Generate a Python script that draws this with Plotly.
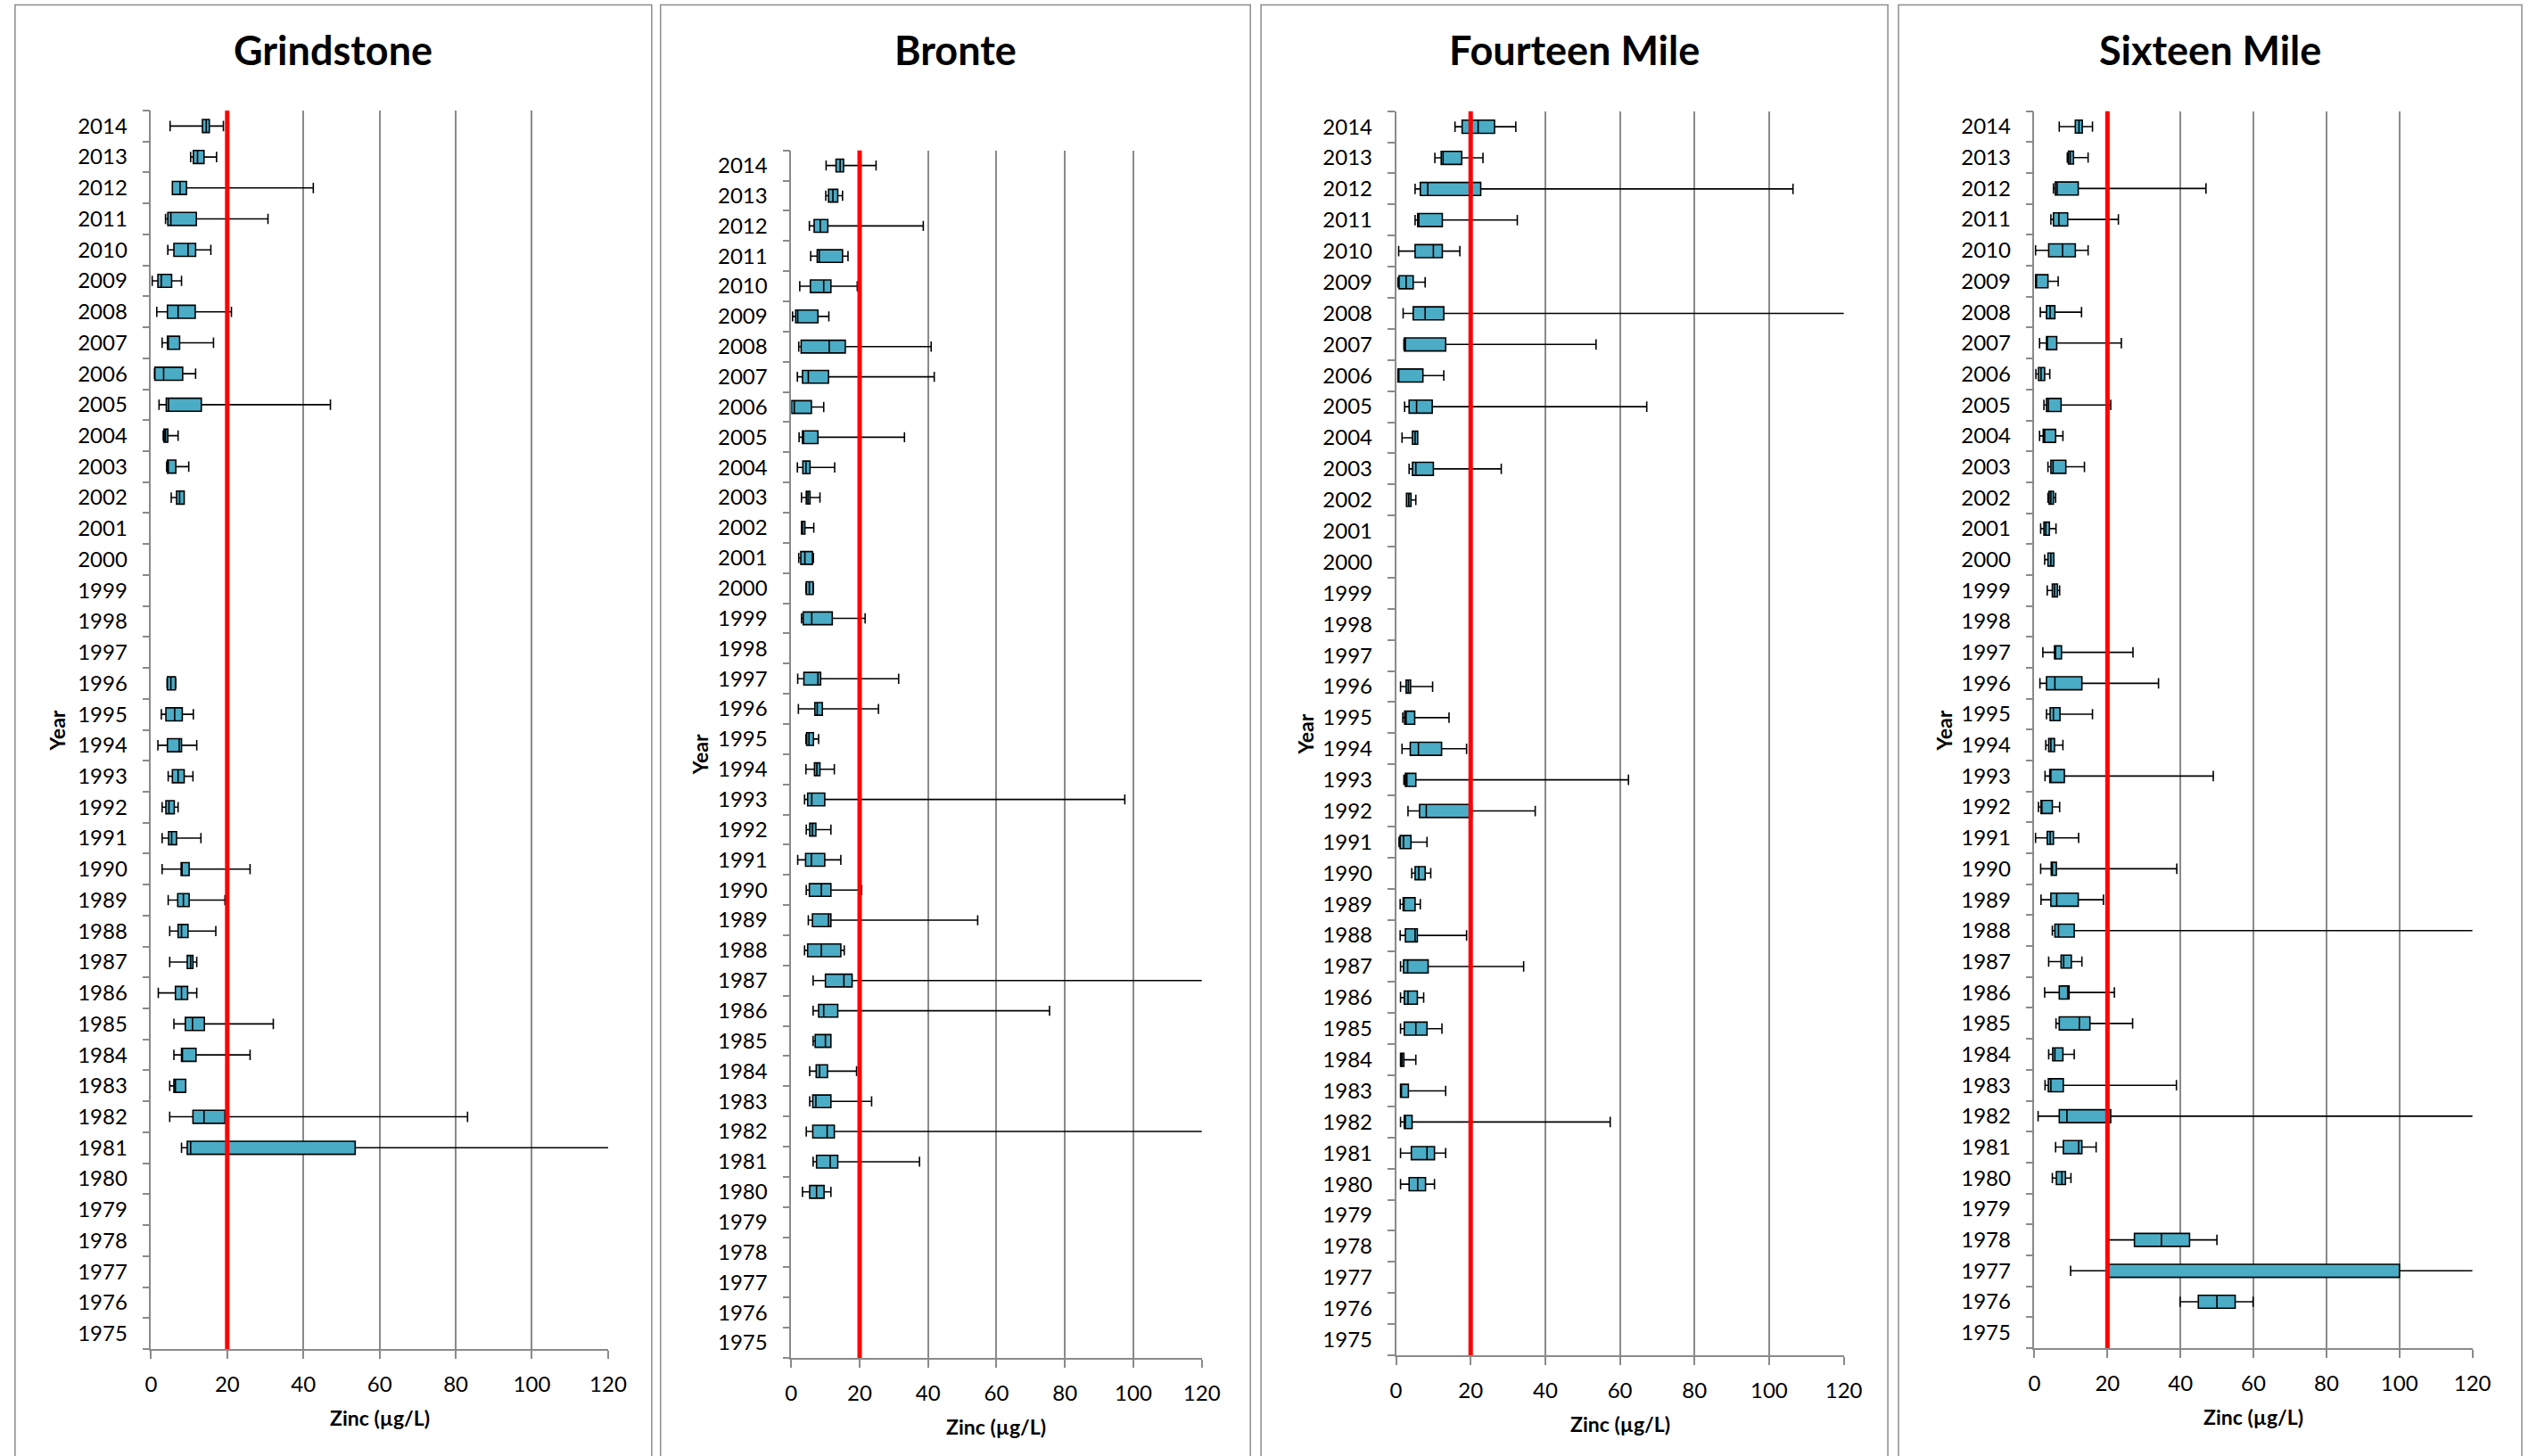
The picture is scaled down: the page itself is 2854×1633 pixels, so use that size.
import plotly.graph_objects as go

# ---------------- data ----------------
YEARS = [str(y) for y in range(1975, 2015)]
X_TICKS = [0, 20, 40, 60, 80, 100, 120]
GUIDELINE = 20  # µg/L
SITES = ["Grindstone", "Bronte", "Fourteen Mile", "Sixteen Mile"]
# values above 120 run off the chart

grindstone_years = [2014, 2013, 2012, 2011, 2010, 2009, 2008, 2007, 2006, 2005, 2004, 2003, 2002,
                    1996, 1995, 1994, 1993, 1992, 1991, 1990, 1989, 1988, 1987, 1986, 1985, 1984,
                    1983, 1982, 1981]
grindstone_low = [5.0, 10.4, 5.6, 3.8, 4.4, 0.3, 1.5, 2.9, 0.9, 2.1, 3.2, 4.1, 5.3,
                  4.2, 2.7, 1.8, 4.5, 2.9, 2.9, 2.9, 4.5, 4.9, 4.9, 1.9, 6.0, 6.0, 4.9, 4.9, 8.0]
grindstone_q1 = [13.5, 11.1, 5.6, 4.4, 6.0, 1.8, 4.3, 4.3, 1.0, 4.0, 3.4, 4.3, 6.7,
                 4.3, 3.9, 4.3, 5.6, 3.9, 4.6, 7.9, 7.0, 7.1, 9.5, 6.4, 9.0, 8.0, 6.0, 11.0, 9.5]
grindstone_med = [14.5, 12.2, 7.6, 5.2, 9.7, 2.7, 7.1, 4.4, 3.3, 4.6, 3.8, 4.4, 7.5,
                  5.2, 6.2, 7.4, 7.1, 4.7, 5.4, 7.9, 8.5, 8.0, 10.4, 8.0, 10.9, 8.2, 6.4, 13.9, 10.4]
grindstone_q3 = [15.3, 13.9, 9.3, 11.9, 11.7, 5.4, 11.6, 7.5, 8.3, 13.2, 4.4, 6.5, 8.7,
                 6.4, 8.2, 8.0, 8.7, 6.1, 6.7, 10.0, 10.0, 9.7, 11.0, 9.6, 14.0, 11.8, 9.1, 19.4, 53.6]
grindstone_high = [19.0, 17.2, 42.6, 30.7, 15.7, 8.0, 21.1, 16.4, 11.7, 47.1, 7.1, 9.9, 8.7,
                   6.5, 11.1, 12.0, 11.0, 7.1, 13.1, 26.0, 19.4, 17.0, 12.0, 12.0, 32.1, 26.0,
                   9.1, 83.1, 130.0]

bronte_years = [2014, 2013, 2012, 2011, 2010, 2009, 2008, 2007, 2006, 2005, 2004, 2003, 2002,
                2001, 2000, 1999, 1997, 1996, 1995, 1994, 1993, 1992, 1991, 1990, 1989, 1988,
                1987, 1986, 1985, 1984, 1983, 1982, 1981, 1980]
bronte_low = [10.2, 10.1, 5.3, 5.7, 2.5, 0.4, 2.2, 1.8, 0.1, 2.3, 1.8, 3.0, 3.0,
              2.2, 4.3, 3.0, 1.9, 2.1, 4.3, 4.3, 3.9, 4.4, 1.9, 4.4, 5.0, 3.9,
              6.4, 6.4, 6.4, 5.4, 5.4, 4.4, 6.4, 3.3]
bronte_q1 = [13.1, 10.9, 6.7, 7.6, 5.6, 1.3, 2.9, 3.3, 0.1, 3.3, 3.4, 4.4, 3.0,
             2.8, 4.4, 3.5, 3.7, 6.9, 4.5, 6.8, 4.8, 5.4, 4.2, 5.3, 6.2, 4.8,
             10.0, 8.0, 7.0, 7.3, 6.3, 6.3, 7.4, 5.4]
bronte_med = [14.3, 12.2, 8.5, 8.2, 9.5, 1.9, 11.1, 5.0, 0.9, 3.6, 4.3, 4.9, 3.3,
              4.0, 5.3, 6.0, 7.8, 7.6, 5.2, 7.5, 6.0, 6.2, 5.9, 8.8, 10.9, 8.8,
              15.4, 9.5, 10.0, 8.3, 7.2, 10.5, 11.4, 7.4]
bronte_q3 = [15.3, 13.6, 10.7, 15.0, 11.6, 7.8, 15.8, 10.9, 5.9, 7.8, 5.5, 5.5, 4.0,
             6.2, 6.4, 12.0, 8.6, 9.1, 6.5, 8.4, 9.8, 7.2, 9.8, 11.6, 11.6, 14.5,
             17.8, 13.6, 11.6, 10.6, 11.6, 12.6, 13.6, 9.6]
bronte_high = [24.8, 15.0, 38.6, 16.6, 19.3, 11.0, 40.9, 41.8, 9.5, 33.1, 12.7, 8.4, 6.6,
               6.5, 6.5, 21.6, 31.4, 25.5, 8.0, 12.6, 97.5, 11.6, 14.5, 20.6, 54.5, 15.5,
               130.0, 75.5, 11.6, 19.1, 23.5, 130.0, 37.5, 11.6]

fourteen_years = [2014, 2013, 2012, 2011, 2010, 2009, 2008, 2007, 2006, 2005, 2004, 2003, 2002,
                  1996, 1995, 1994, 1993, 1992, 1991, 1990, 1989, 1988, 1987, 1986, 1985, 1984,
                  1983, 1982, 1981, 1980]
fourteen_low = [15.8, 10.4, 5.1, 5.1, 0.7, 0.5, 1.9, 2.1, 0.5, 2.3, 1.6, 3.5, 2.8,
                1.2, 1.8, 1.6, 2.1, 3.2, 0.8, 4.2, 1.1, 1.1, 1.2, 1.2, 1.2, 1.2,
                1.2, 1.2, 1.2, 1.2]
fourteen_q1 = [17.7, 12.1, 6.5, 5.8, 5.1, 0.8, 4.6, 2.2, 0.5, 3.5, 4.4, 4.4, 2.8,
               2.7, 2.3, 3.8, 2.5, 6.3, 1.1, 5.1, 1.9, 2.5, 2.0, 2.2, 2.2, 1.2,
               1.2, 2.2, 4.1, 3.5]
fourteen_med = [22.0, 12.6, 8.5, 6.1, 10.0, 2.7, 7.8, 2.5, 0.7, 5.5, 5.1, 5.3, 3.4,
                3.3, 2.7, 6.0, 2.9, 8.1, 2.0, 6.1, 2.1, 5.1, 3.1, 3.2, 5.3, 1.6,
                1.4, 2.5, 8.3, 5.8]
fourteen_q3 = [26.4, 17.6, 22.7, 12.4, 12.4, 4.6, 12.8, 13.3, 7.2, 9.7, 5.8, 10.0, 4.0,
               3.9, 5.0, 12.2, 5.3, 20.3, 4.0, 7.8, 5.1, 5.7, 8.6, 5.7, 8.3, 2.1,
               3.3, 4.3, 10.3, 7.9]
fourteen_high = [32.1, 23.3, 106.4, 32.5, 17.1, 7.8, 130.0, 53.6, 12.8, 67.2, 5.8, 28.2, 5.3,
                 9.8, 14.2, 18.9, 62.3, 37.3, 8.3, 9.3, 6.5, 18.9, 34.2, 7.4, 12.3, 5.3,
                 13.3, 57.4, 13.3, 10.3]

sixteen_years = [2014, 2013, 2012, 2011, 2010, 2009, 2008, 2007, 2006, 2005, 2004, 2003, 2002,
                 2001, 2000, 1999, 1997, 1996, 1995, 1994, 1993, 1992, 1991, 1990, 1989, 1988,
                 1987, 1986, 1985, 1984, 1983, 1982, 1981, 1980, 1978, 1977, 1976]
sixteen_low = [6.8, 9.0, 5.2, 4.5, 0.3, 0.3, 1.6, 1.4, 0.4, 2.6, 1.4, 3.7, 3.7,
               1.7, 2.8, 3.5, 2.3, 1.5, 3.3, 3.1, 2.9, 1.1, 0.3, 1.7, 1.8, 4.9,
               3.9, 2.8, 5.9, 3.9, 2.9, 1.0, 5.8, 4.9, 20.2, 9.9, 39.9]
sixteen_q1 = [11.2, 9.3, 5.7, 5.2, 3.9, 0.3, 3.3, 3.3, 1.1, 3.3, 2.4, 4.5, 4.0,
              2.6, 3.7, 4.9, 5.5, 3.3, 4.3, 3.9, 4.2, 1.8, 3.5, 4.6, 4.5, 5.6,
              7.3, 6.8, 6.8, 5.0, 3.8, 6.8, 7.9, 6.0, 27.4, 20.0, 44.9]
sixteen_med = [12.2, 9.8, 6.2, 6.7, 7.7, 0.5, 4.3, 3.5, 1.8, 3.8, 2.8, 5.1, 4.5,
               3.1, 4.5, 5.5, 5.8, 5.6, 5.2, 4.5, 4.5, 2.0, 4.3, 4.9, 6.1, 6.6,
               8.0, 9.1, 12.3, 5.6, 4.5, 8.9, 12.1, 7.5, 34.8, 20.0, 50.0]
sixteen_q3 = [13.1, 10.7, 12.0, 9.1, 11.2, 3.7, 5.6, 6.1, 2.8, 7.3, 5.8, 8.6, 5.2,
              4.1, 5.3, 6.3, 7.4, 13.0, 7.0, 5.5, 8.2, 4.9, 5.2, 6.0, 12.0, 10.9,
              10.1, 9.5, 15.2, 7.8, 7.9, 20.9, 13.0, 8.5, 42.5, 100.0, 55.0]
sixteen_high = [15.9, 14.7, 47.0, 23.0, 14.7, 6.5, 12.9, 23.8, 4.2, 20.9, 7.8, 13.7, 5.8,
                5.9, 5.3, 6.9, 27.0, 34.0, 15.9, 7.8, 49.0, 6.9, 12.1, 39.0, 18.9, 130.0,
                13.0, 21.9, 26.9, 10.9, 38.9, 130.0, 16.9, 10.0, 50.0, 130.0, 59.9]

SERIES = [
    (grindstone_years, grindstone_low, grindstone_q1, grindstone_med, grindstone_q3, grindstone_high),
    (bronte_years, bronte_low, bronte_q1, bronte_med, bronte_q3, bronte_high),
    (fourteen_years, fourteen_low, fourteen_q1, fourteen_med, fourteen_q3, fourteen_high),
    (sixteen_years, sixteen_low, sixteen_q1, sixteen_med, sixteen_q3, sixteen_high),
]

# ---------------- layout geometry (pixels) ----------------
W, H = 2854, 1633
# plot area: x0, x1, ytop, ybottom
PLOTS = [(164, 681.6, 124, 1513), (889, 1354, 168.7, 1523),
         (1574, 2081, 124.7, 1520), (2297, 2793, 124.7, 1512)]
# panel frames: left, right
FRAMES = [(10, 731), (741, 1409), (1421, 2131), (2143, 2849)]
YEAR_LABEL_POS = [(58, 819), (786, 846), (1471, 824), (2195, 819)]

FONT = "Lato, Liberation Sans, Arial, sans-serif"
GRID = "#8a8a8a"
FILL = "#4BACC6"

fig = go.Figure()
shapes, annotations = [], []
layout_axes = {}

for i, (site, data, plot, frame, ylab) in enumerate(zip(SITES, SERIES, PLOTS, FRAMES, YEAR_LABEL_POS)):
    yrs, low, q1, med, q3, high = data
    n = "" if i == 0 else str(i + 1)
    xa, ya = "x" + n, "y" + n
    fig.add_trace(go.Box(
        y=[str(v) for v in yrs], q1=q1, median=med, q3=q3,
        lowerfence=low, upperfence=high, orientation="h",
        xaxis=xa, yaxis=ya, width=0.42, whiskerwidth=0.8,
        fillcolor=FILL, line=dict(color="black", width=1.6),
        boxpoints=False, hoverinfo="skip", showlegend=False))

    x0, x1, yt, yb = plot
    layout_axes["xaxis" + n] = dict(
        domain=[x0 / W, x1 / W], anchor=ya, range=[0, 120], tickvals=X_TICKS,
        showgrid=True, gridcolor=GRID, gridwidth=1.5, zeroline=False,
        showline=True, linecolor=GRID, linewidth=1.5,
        ticks="outside", ticklen=9, tickcolor=GRID, tickwidth=1.5,
        tickfont=dict(family=FONT, size=24, color="black"), ticklabelstandoff=8)
    layout_axes["yaxis" + n] = dict(
        domain=[1 - yb / H, 1 - yt / H], anchor=xa, type="category",
        categoryorder="array", categoryarray=YEARS, range=[-0.5, len(YEARS) - 0.5],
        showgrid=False, zeroline=False, showline=True, linecolor=GRID, linewidth=1.5,
        ticks="outside", ticklen=8, tickcolor=GRID, tickwidth=1.5, tickson="boundaries",
        tickfont=dict(family=FONT, size=24, color="black"), ticklabelstandoff=20)

    # guideline
    shapes.append(dict(type="line", xref=xa, yref=ya + " domain", x0=GUIDELINE, x1=GUIDELINE,
                       y0=0, y1=1, line=dict(color="#FF0000", width=5), layer="above"))
    # panel frame
    shapes.append(dict(type="rect", xref="paper", yref="paper", x0=frame[0] / W, x1=frame[1] / W,
                       y0=-0.05, y1=1 - 5.5 / H, line=dict(color="#8c8c8c", width=1.5),
                       fillcolor="rgba(0,0,0,0)", layer="below"))
    # titles
    annotations.append(dict(text="<b>%s</b>" % site, xref="paper", yref="paper",
                            x=(frame[0] + frame[1]) / 2 / W, y=1 - 56 / H, showarrow=False,
                            xanchor="center", yanchor="middle",
                            font=dict(family=FONT, size=45, color="black")))
    annotations.append(dict(text="<b>Year</b>", xref="paper", yref="paper", x=ylab[0] / W,
                            y=1 - ylab[1] / H, textangle=-90, showarrow=False,
                            xanchor="center", yanchor="middle",
                            font=dict(family=FONT, size=23, color="black")))
    annotations.append(dict(text="<b>Zinc (µg/L)</b>", xref="paper", yref="paper",
                            x=(x0 + x1) / 2 / W, y=1 - (yb + 77) / H, showarrow=False,
                            xanchor="center", yanchor="middle",
                            font=dict(family=FONT, size=23, color="black")))

fig.update_layout(width=W, height=H, autosize=False, margin=dict(l=0, r=0, t=0, b=0),
                  paper_bgcolor="white", plot_bgcolor="white", shapes=shapes,
                  annotations=annotations, **layout_axes)

fig.write_html("out.html")
